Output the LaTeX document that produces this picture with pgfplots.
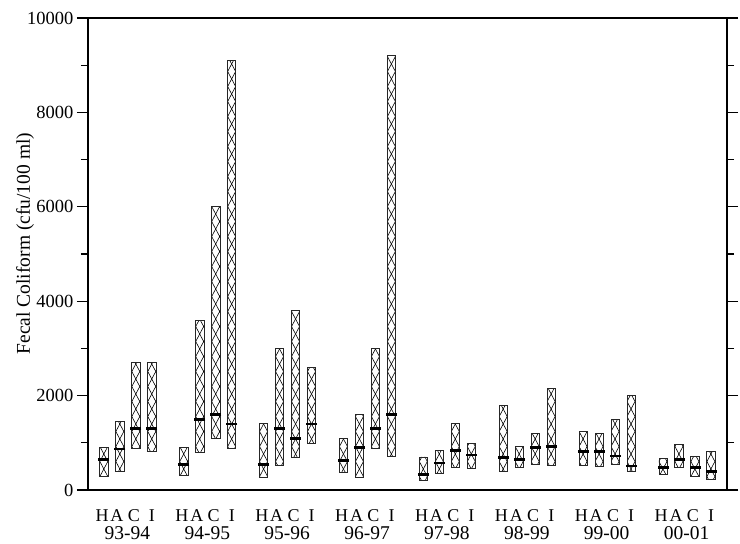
\documentclass[border=0pt]{standalone}
\usepackage{pgfplots}
\pgfplotsset{compat=1.18}
\usepackage{pgfplotstable}
\usepackage{fontspec}
\setmainfont{Liberation Serif}
\usetikzlibrary{patterns.meta}

\tikzdeclarepattern{
  name=xchain,
  type=uncolored,
  bounding box={(-0.5bp,-0.5bp) and (8.5bp,15.5bp)},
  tile size={(7.9875bp,15bp)},
  code={
    \draw[line width=0.6bp] (0,0) -- (7.9875bp,15bp) (0,15bp) -- (7.9875bp,0);
  }
}

\pgfplotstableread{
x   low   high  med
0   280   900   650
1   400   1450  870
2   880   2700  1300
3   810   2700  1300
5   310   900   540
6   800   3600  1500
7   1090  6000  1600
8   880   9100  1400
10  270   1400  540
11  520   3000  1300
12  700   3800  1090
13  980   2600  1400
15  380   1100  630
16  270   1600  900
17  870   3000  1300
18  710   9200  1600
20  200   700   330
21  350   830   570
22  480   1400  840
23  450   980   740
25  400   1800  690
26  480   930   640
27  540   1200  900
28  510   2150  930
30  520   1240  820
31  500   1200  820
32  540   1500  720
33  400   2000  510
35  340   660   480
36  480   960   640
37  290   710   470
38  220   820   400
}\data

\newcommand{\tickfont}{\fontsize{18.5bp}{21bp}\selectfont}
\newcommand{\letfont}{\fontsize{18bp}{21bp}\selectfont}
\newcommand{\bigfont}{\fontsize{19.5bp}{22bp}\selectfont}

\begin{document}
\begin{tikzpicture}
\begin{axis}[
  scale only axis, width=639bp, height=472bp,
  xmin=-1, xmax=39, ymin=0, ymax=10000,
  ybar stacked, bar width=0.52,
  axis line style={line width=1.6bp},
  ytick={0,2000,...,10000}, minor y tick num=1,
  tick align=outside,
  major tick length=11bp, minor tick length=7bp,
  ytick style={line width=1.3bp, black},
  minor y tick style={line width=1.3bp, black},
  xtick style={draw=none},
  xtick={-0.12,0.81,1.87,3, 4.88,5.81,6.87,8, 9.88,10.81,11.87,13, 14.88,15.81,16.87,18, 19.88,20.81,21.87,23, 24.88,25.81,26.87,28, 29.88,30.81,31.87,33, 34.88,35.81,36.87,38},
  xticklabels={H,A,C,I,H,A,C,I,H,A,C,I,H,A,C,I,H,A,C,I,H,A,C,I,H,A,C,I,H,A,C,I},
  extra x ticks={1.47,6.47,11.47,16.47,21.47,26.47,31.47,36.47},
  extra x tick labels={93-94,94-95,95-96,96-97,97-98,98-99,99-00,00-01},
  extra x tick style={tick style={draw=none}, xticklabel style={inner sep=0pt, yshift=-20.5bp, font=\bigfont}},
  scaled y ticks=false,
  /pgf/number format/1000 sep={},
  /pgf/number format/assume math mode=true,
  yticklabel style={font=\tickfont},
  xticklabel style={font=\letfont, yshift=-5bp},
  ylabel={Fecal Coliform (cfu/100 ml)},
  ylabel style={font=\bigfont, at={(axis description cs:-0.0985,0.522)}, anchor=center},
  clip=false,
]
\addplot[draw=none, fill=none] table[x=x, y=low] {\data};
\addplot[draw=black!85, line width=0.9bp, pattern=xchain, pattern color=black]
  table[x=x, y expr=\thisrow{high}-\thisrow{low}] {\data};
\end{axis}
\begin{axis}[
  scale only axis, width=639bp, height=472bp,
  xmin=-1, xmax=39, ymin=0, ymax=10000,
  hide axis, clip=false,
]
\addplot[only marks, mark=-, mark size=5.5bp, mark options={line width=2.8bp, black}]
  table[x=x, y=med] {\data};
\end{axis}
\pgfresetboundingbox
\path ([xshift=-88bp,yshift=-54bp]current axis.south west) rectangle ([xshift=13bp,yshift=18bp]current axis.north east);
\end{tikzpicture}
\end{document}
